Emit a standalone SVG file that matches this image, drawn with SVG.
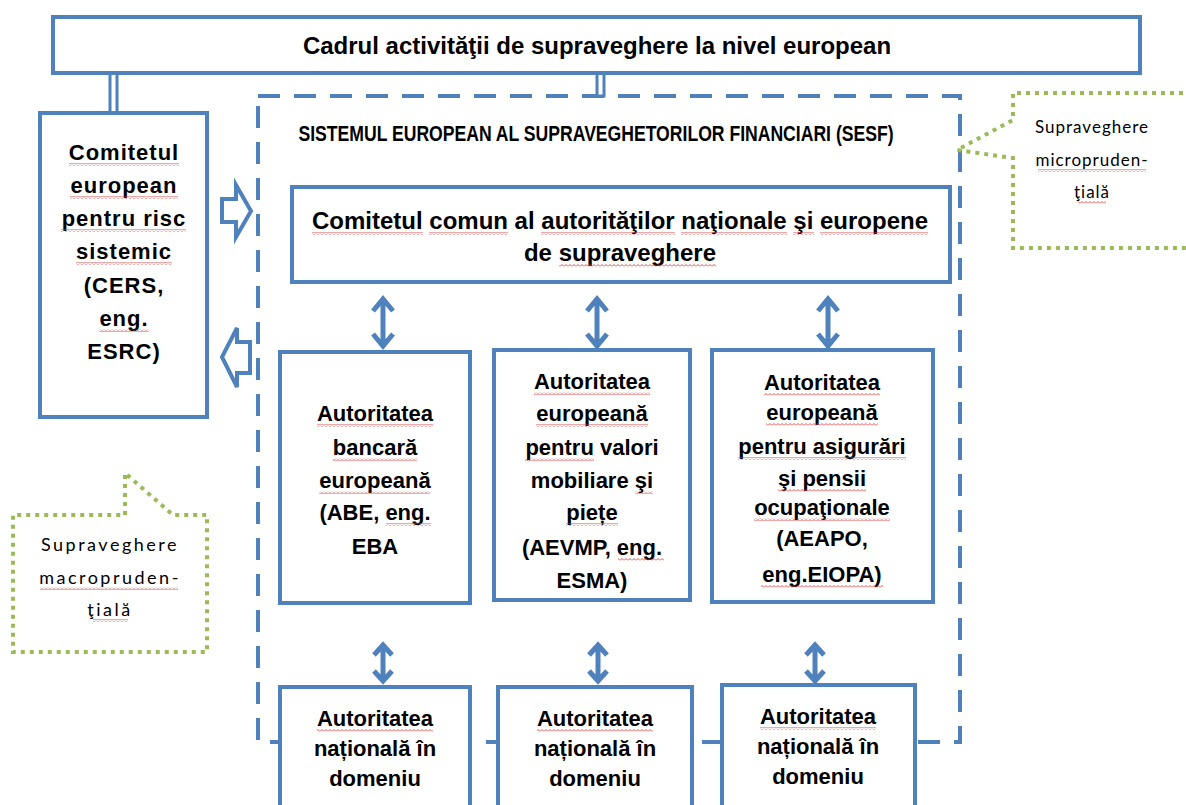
<svg xmlns="http://www.w3.org/2000/svg" width="1186" height="805" viewBox="0 0 1186 805">
<defs>
<pattern id="sq" width="4" height="3" patternUnits="userSpaceOnUse">
<path d="M0,2.5 L2,0.5 L4,2.5" fill="none" stroke="#E23B3B" stroke-width="0.9"/>
</pattern>
</defs>
<style>
.box{fill:#fff;stroke:#4F81BD;stroke-width:4}
.t{font-family:"Liberation Sans",Arial,sans-serif;font-weight:bold;font-size:22px;fill:#000;text-anchor:middle}
.big{font-size:24px}
.ts{font-family:Lato,"Liberation Sans",sans-serif;font-size:17px;fill:#000;text-anchor:middle;letter-spacing:1px}
.tm{font-size:18px;letter-spacing:2.5px}
.dot{fill:none;stroke:#9BBB59;stroke-width:4;stroke-dasharray:4 5}
.dash{fill:none;stroke:#4F81BD;stroke-width:4;stroke-dasharray:22 14}
.arr{fill:none;stroke:#4F81BD;stroke-width:5;stroke-linejoin:miter}
.blk{fill:#fff;stroke:#4F81BD;stroke-width:4;stroke-linejoin:miter}
.dbl{fill:#fff;stroke:#4F81BD;stroke-width:3}
.sp{fill:url(#sq)}
</style>
<rect width="1186" height="805" fill="#fff"/>
<g id="sesf-frame">
<rect class="dash" x="258" y="96" width="702" height="646"/>
<text class="t" transform="translate(596 141) scale(0.8 1)" x="0" y="0">SISTEMUL EUROPEAN AL SUPRAVEGHETORILOR FINANCIARI (SESF)</text>
</g>
<g id="connectors">
<rect class="dbl" x="110" y="73" width="7" height="40"/>
<rect class="dbl" x="597" y="73" width="7" height="23"/>
<polygon class="blk" points="222,199 236,199 236,185 251,211 236,237 236,222 222,222"/>
<polygon class="blk" points="250,342 237,342 237,328 222,357 237,387 237,373 250,373"/>
<path class="arr" d="M383,299 V346 M373,311 L383,299 L393,311 M373,334 L383,346 L393,334"/>
<path class="arr" d="M597,299 V346 M587,311 L597,299 L607,311 M587,334 L597,346 L607,334"/>
<path class="arr" d="M828,299 V346 M818,311 L828,299 L838,311 M818,334 L828,346 L838,334"/>
<path class="arr" d="M383,645 V681 M374,655 L383,645 L392,655 M374,671 L383,681 L392,671"/>
<path class="arr" d="M598,645 V681 M589,655 L598,645 L607,655 M589,671 L598,681 L607,671"/>
<path class="arr" d="M815,645 V681 M806,655 L815,645 L824,655 M806,671 L815,681 L824,671"/>
</g>
<g id="top">
<rect class="box" x="53" y="17" width="1087" height="56"/>
<text class="t big" x="597" y="54">Cadrul activităţii de supraveghere  la nivel european</text>
</g>
<g id="cers">
<rect class="box" x="40" y="113" width="167" height="304"/>
<text class="t" x="124" y="160" letter-spacing="1">Comitetul</text>
<text class="t" x="124" y="193" letter-spacing="1">european</text>
<text class="t" x="124" y="226" letter-spacing="1">pentru risc</text>
<text class="t" x="124" y="259" letter-spacing="1">sistemic</text>
<text class="t" x="124" y="293" letter-spacing="1">(CERS,</text>
<text class="t" x="124" y="326" letter-spacing="1">eng.</text>
<text class="t" x="124" y="359" letter-spacing="1">ESRC)</text>
</g>
<g id="comitet-comun">
<rect class="box" x="292" y="187" width="658" height="95"/>
<text class="t big" x="620" y="229">Comitetul comun al autorităţilor naţionale şi europene</text>
<text class="t big" x="620" y="261">de supraveghere</text>
</g>
<g id="abe">
<rect class="box" x="280" y="352" width="190" height="251"/>
<text class="t" x="375" y="421">Autoritatea</text>
<text class="t" x="375" y="455">bancară</text>
<text class="t" x="375" y="488">europeană</text>
<text class="t" x="375" y="520">(ABE, eng.</text>
<text class="t" x="375" y="554">EBA</text>
</g>
<g id="aevmp">
<rect class="box" x="494" y="350" width="196" height="250"/>
<text class="t" x="592" y="389">Autoritatea</text>
<text class="t" x="592" y="421">europeană</text>
<text class="t" x="592" y="455">pentru valori</text>
<text class="t" x="592" y="488">mobiliare şi</text>
<text class="t" x="592" y="520">piețe</text>
<text class="t" x="592" y="555">(AEVMP, eng.</text>
<text class="t" x="592" y="588">ESMA)</text>
</g>
<g id="aeapo">
<rect class="box" x="712" y="350" width="221" height="252"/>
<text class="t" x="822" y="390">Autoritatea</text>
<text class="t" x="822" y="420">europeană</text>
<text class="t" x="822" y="454">pentru asigurări</text>
<text class="t" x="822" y="486">şi pensii</text>
<text class="t" x="822" y="515">ocupaţionale</text>
<text class="t" x="822" y="546">(AEAPO,</text>
<text class="t" x="822" y="582">eng.EIOPA)</text>
</g>
<g id="nat1">
<rect class="box" x="280" y="687" width="190" height="130"/>
<text class="t" x="375" y="726">Autoritatea</text>
<text class="t" x="375" y="756">națională în</text>
<text class="t" x="375" y="786">domeniu</text>
</g>
<g id="nat2">
<rect class="box" x="498" y="687" width="194" height="130"/>
<text class="t" x="595" y="726">Autoritatea</text>
<text class="t" x="595" y="756">națională în</text>
<text class="t" x="595" y="786">domeniu</text>
</g>
<g id="nat3">
<rect class="box" x="722" y="685" width="193" height="130"/>
<text class="t" x="818" y="724">Autoritatea</text>
<text class="t" x="818" y="754">națională în</text>
<text class="t" x="818" y="784">domeniu</text>
</g>
<g id="micro">
<path class="dot" d="M1192,93 H1013 V120 L957,150 L1013,158 V248 H1192"/>
<text class="ts" x="1092" y="133">Supraveghere</text>
<text class="ts" x="1092" y="166">micropruden-</text>
<text class="ts" x="1092" y="198">ţială</text>
</g>
<g id="macro">
<path class="dot" d="M125,515 V473 L173,515 H207 V652 H13 V515 H125"/>
<text class="ts tm" x="110" y="551">Supraveghere</text>
<text class="ts tm" x="110" y="584">macropruden-</text>
<text class="ts tm" x="110" y="616">ţială</text>
</g>
<g id="spellcheck">
<rect class="sp" x="69" y="163" width="110" height="3"/>
<rect class="sp" x="70" y="196" width="108" height="3"/>
<rect class="sp" x="61" y="229" width="125" height="3"/>
<rect class="sp" x="76" y="262" width="96" height="3"/>
<rect class="sp" x="99" y="329" width="50" height="3"/>
<rect class="sp" x="312" y="232" width="111" height="3"/>
<rect class="sp" x="429" y="232" width="79" height="3"/>
<rect class="sp" x="541" y="232" width="134" height="3"/>
<rect class="sp" x="681" y="232" width="106" height="3"/>
<rect class="sp" x="793" y="232" width="21" height="3"/>
<rect class="sp" x="820" y="232" width="108" height="3"/>
<rect class="sp" x="559" y="264" width="157" height="3"/>
<rect class="sp" x="317" y="424" width="116" height="3"/>
<rect class="sp" x="333" y="458" width="84" height="3"/>
<rect class="sp" x="319" y="491" width="111" height="3"/>
<rect class="sp" x="386" y="523" width="45" height="3"/>
<rect class="sp" x="534" y="392" width="116" height="3"/>
<rect class="sp" x="536" y="424" width="112" height="3"/>
<rect class="sp" x="525" y="458" width="69" height="3"/>
<rect class="sp" x="635" y="491" width="18" height="3"/>
<rect class="sp" x="566" y="523" width="52" height="3"/>
<rect class="sp" x="618" y="558" width="46" height="3"/>
<rect class="sp" x="764" y="393" width="116" height="3"/>
<rect class="sp" x="766" y="423" width="112" height="3"/>
<rect class="sp" x="738" y="457" width="168" height="3"/>
<rect class="sp" x="778" y="489" width="88" height="3"/>
<rect class="sp" x="754" y="518" width="136" height="3"/>
<rect class="sp" x="761" y="585" width="122" height="3"/>
<rect class="sp" x="317" y="729" width="116" height="3"/>
<rect class="sp" x="537" y="729" width="116" height="3"/>
<rect class="sp" x="760" y="727" width="116" height="3"/>
<rect class="sp" x="1038" y="169" width="108" height="3"/>
<rect class="sp" x="1078" y="201" width="28" height="3"/>
<rect class="sp" x="40" y="587" width="138" height="3"/>
<rect class="sp" x="93" y="619" width="35" height="3"/>
</g>
</svg>
